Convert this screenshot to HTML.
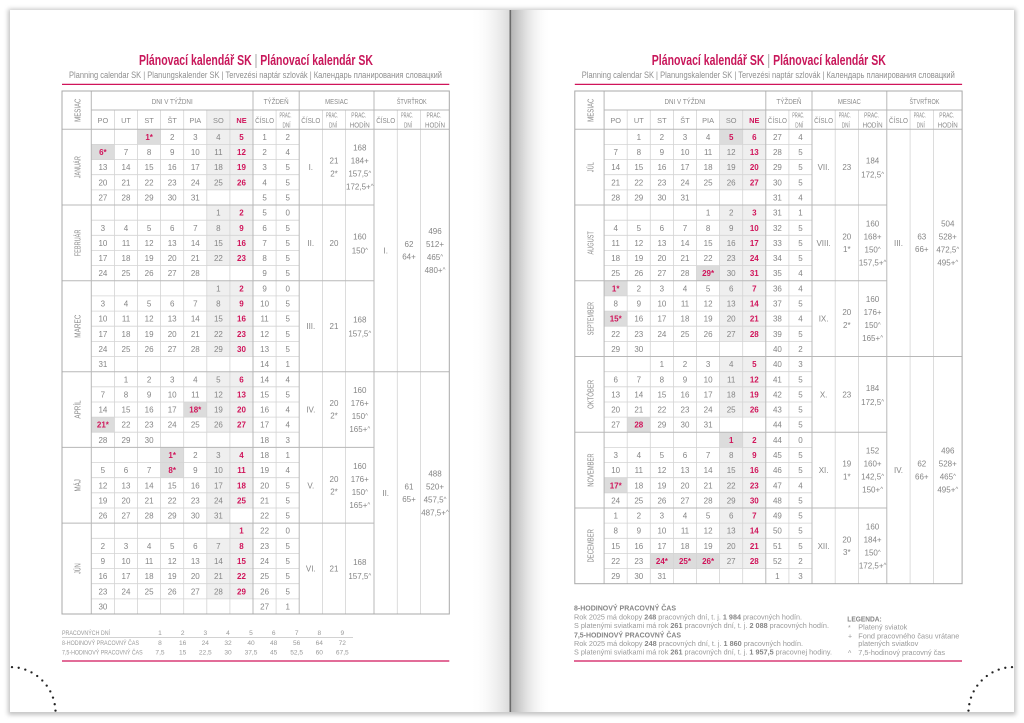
<!DOCTYPE html>
<html><head><meta charset="utf-8"><style>
html,body{margin:0;padding:0;background:#fff;}
svg{display:block}
text{font-family:"Liberation Sans","DejaVu Sans",sans-serif}
.d{font-size:8px;fill:#858585;text-anchor:middle}
.r{fill:#d0145a;font-weight:bold}
.hd{font-size:7.4px;fill:#8a8a8a;text-anchor:middle}
.ml{font-size:8.4px;fill:#8a8a8a;text-anchor:middle}
.c{font-size:6px}
.ft{font-size:6.6px;fill:#9a9a9a}
.fv{font-size:6.6px;fill:#9a9a9a;text-anchor:middle}
.fb{font-size:7px;fill:#9a9a9a}
.fb b,.bb{font-weight:bold;fill:#858585}
</style></head><body>
<svg width="1024" height="723" viewBox="0 0 1024 723" xmlns="http://www.w3.org/2000/svg">
<defs>
<filter id="bl" x="-5%" y="-5%" width="110%" height="110%"><feGaussianBlur stdDeviation="2"/></filter>
<linearGradient id="gl" x1="0" x2="1" y1="0" y2="0"><stop offset="0" stop-color="#fff" stop-opacity="0"/><stop offset="1" stop-color="#dadada"/></linearGradient>
<linearGradient id="gr" x1="0" x2="1" y1="0" y2="0"><stop offset="0" stop-color="#b5b5b5"/><stop offset=".3" stop-color="#d8d8d8"/><stop offset="1" stop-color="#fff" stop-opacity="0"/></linearGradient>
</defs>
<rect width="1024" height="723" fill="#fff"/>
<rect x="8" y="9" width="1008" height="706" fill="#8a8a8a" opacity=".5" filter="url(#bl)"/>
<rect x="10" y="10" width="500" height="702" fill="#fff"/>
<rect x="511" y="10" width="503" height="702" fill="#fff"/>
<rect x="470" y="10" width="40" height="702" fill="url(#gl)"/>
<rect x="511" y="10" width="40" height="702" fill="url(#gr)"/>
<line x1="510.3" y1="10" x2="510.3" y2="712" stroke="#6a6a6a" stroke-width="1.6"/>

<g fill="#222">
<circle cx="12" cy="667.1" r="1.15"/><circle cx="18.7" cy="667.8" r="1.15"/><circle cx="25.3" cy="669.6" r="1.15"/><circle cx="31.5" cy="672.4" r="1.15"/><circle cx="37.2" cy="676" r="1.15"/><circle cx="42.3" cy="680.5" r="1.15"/><circle cx="46.7" cy="685.6" r="1.15"/><circle cx="50.3" cy="691.4" r="1.15"/><circle cx="53" cy="697.6" r="1.15"/><circle cx="54.7" cy="704.2" r="1.15"/><circle cx="55.5" cy="710.6" r="1.15"/>
<circle cx="1012" cy="667.1" r="1.15"/><circle cx="1005.3" cy="667.8" r="1.15"/><circle cx="998.7" cy="669.6" r="1.15"/><circle cx="992.5" cy="672.4" r="1.15"/><circle cx="986.8" cy="676" r="1.15"/><circle cx="981.7" cy="680.5" r="1.15"/><circle cx="977.3" cy="685.6" r="1.15"/><circle cx="973.7" cy="691.4" r="1.15"/><circle cx="971" cy="697.6" r="1.15"/><circle cx="969.3" cy="704.2" r="1.15"/><circle cx="968.5" cy="710.6" r="1.15"/>
</g>

<!-- ================= LEFT PAGE ================= -->
<g>
<text x="139" y="65" font-size="15" fill="#c8175a" font-weight="bold" textLength="234" lengthAdjust="spacingAndGlyphs">Plánovací kalendář SK <tspan fill="#9a9a9a" font-weight="normal">|</tspan> Plánovací kalendár SK</text>
<text x="69" y="78" font-size="9" fill="#8f8f8f" textLength="373" lengthAdjust="spacingAndGlyphs">Planning calendar SK | Planungskalender SK | Tervezési naptár szlovák | Календарь планирования словацкий</text>
<line x1="62" y1="84.4" x2="449.3" y2="84.4" stroke="#d0145a" stroke-width="1.3"/>

<rect x="206.8" y="110" width="46.2" height="19.3" fill="#efefef"/>
<g fill="#efefef">
<rect x="206.8" y="129.3" width="46.2" height="60.6"/>
<rect x="206.8" y="205" width="46.2" height="60.6"/>
<rect x="206.8" y="280.8" width="46.2" height="75.7"/>
<rect x="206.8" y="371.7" width="46.2" height="60.5"/>
<rect x="206.8" y="447.4" width="23.1" height="75.7"/>
<rect x="229.9" y="447.4" width="23.1" height="60.6"/>
<rect x="206.8" y="538.3" width="23.1" height="60.6"/>
<rect x="229.9" y="523.1" width="23.1" height="75.8"/>
</g>
<g fill="#dcdcdc">
<rect x="137.5" y="129.3" width="23.1" height="15.1"/>
<rect x="91.3" y="144.4" width="23.1" height="15.2"/>
<rect x="183.7" y="402" width="23.1" height="15.1"/>
<rect x="91.3" y="417.1" width="23.1" height="15.1"/>
<rect x="160.6" y="447.4" width="23.1" height="15.1"/>
<rect x="160.6" y="462.5" width="23.1" height="15.2"/>
</g>

<path fill="none" stroke="#d4d4d4" stroke-width=".8" d="M91.3 144.4H299.2M91.3 159.6H299.2M91.3 174.7H299.2M91.3 189.9H299.2M91.3 220.2H299.2M91.3 235.3H299.2M91.3 250.5H299.2M91.3 265.6H299.2M91.3 295.9H299.2M91.3 311.1H299.2M91.3 326.2H299.2M91.3 341.4H299.2M91.3 356.5H299.2M91.3 386.8H299.2M91.3 402H299.2M91.3 417.1H299.2M91.3 432.2H299.2M91.3 462.5H299.2M91.3 477.7H299.2M91.3 492.8H299.2M91.3 508H299.2M91.3 538.3H299.2M91.3 553.4H299.2M91.3 568.6H299.2M91.3 583.7H299.2M91.3 598.9H299.2
M114.4 110V614M137.5 110V614M160.6 110V614M183.7 110V614M206.8 110V614M229.9 110V614M276.1 110V614M322.4 110V614M345.6 110V614M397.3 110V614M420.6 110V614"/>
<path fill="none" stroke="#b8b8b8" stroke-width="1" d="M91.3 110H449.3M62 129.3H449.3M62 205H374M62 280.8H374M62 371.7H449.3M62 447.4H374M62 523.1H374M91.3 91V614M253 91V614M299.2 91V614M374 91V614"/>
<rect x="62" y="91" width="387.3" height="523" fill="none" stroke="#a8a8a8" stroke-width="1"/>

<text class="ml" transform="translate(80.6 110.2) rotate(-90)" textLength="23.3" lengthAdjust="spacingAndGlyphs">MESIAC</text>
<g class="hd">
<text x="172.2" y="104" textLength="41" lengthAdjust="spacingAndGlyphs">DNI V TÝŽDNI</text>
<text x="276.1" y="104" textLength="25" lengthAdjust="spacingAndGlyphs">TÝŽDEŇ</text>
<text x="336.6" y="104" textLength="23" lengthAdjust="spacingAndGlyphs">MESIAC</text>
<text x="411.7" y="104" textLength="30" lengthAdjust="spacingAndGlyphs">ŠTVRŤROK</text>
<text y="123"><tspan x="102.9">PO</tspan><tspan x="126">UT</tspan><tspan x="149.1">ST</tspan><tspan x="172.2">ŠT</tspan><tspan x="195.3">PIA</tspan><tspan x="218.4">SO</tspan><tspan x="241.5" class="r">NE</tspan></text>
<text x="264.6" y="123" textLength="19" lengthAdjust="spacingAndGlyphs">ČÍSLO</text>
<text x="310.8" y="123" textLength="19" lengthAdjust="spacingAndGlyphs">ČÍSLO</text>
<text x="385.7" y="123" textLength="19" lengthAdjust="spacingAndGlyphs">ČÍSLO</text>
<text x="285.5" y="117.5" textLength="12" lengthAdjust="spacingAndGlyphs">PRAC.</text><text x="286.5" y="127.5" textLength="8" lengthAdjust="spacingAndGlyphs">DNÍ</text>
<text x="332" y="117.5" textLength="12" lengthAdjust="spacingAndGlyphs">PRAC.</text><text x="333" y="127.5" textLength="8" lengthAdjust="spacingAndGlyphs">DNÍ</text>
<text x="358.8" y="117.5" textLength="15" lengthAdjust="spacingAndGlyphs">PRAC.</text><text x="359.8" y="127.5" textLength="20" lengthAdjust="spacingAndGlyphs">HODÍN</text>
<text x="407" y="117.5" textLength="12" lengthAdjust="spacingAndGlyphs">PRAC.</text><text x="408" y="127.5" textLength="8" lengthAdjust="spacingAndGlyphs">DNÍ</text>
<text x="434" y="117.5" textLength="15" lengthAdjust="spacingAndGlyphs">PRAC.</text><text x="435" y="127.5" textLength="20" lengthAdjust="spacingAndGlyphs">HODÍN</text>
</g>

<g class="ml">
<text transform="translate(80.5 167.2) rotate(-90)" textLength="22" lengthAdjust="spacingAndGlyphs">JANUÁR</text>
<text transform="translate(80.5 242.9) rotate(-90)" textLength="26.7" lengthAdjust="spacingAndGlyphs">FEBRUÁR</text>
<text transform="translate(80.5 326.2) rotate(-90)" textLength="23" lengthAdjust="spacingAndGlyphs">MAREC</text>
<text transform="translate(80.5 409.5) rotate(-90)" textLength="18.3" lengthAdjust="spacingAndGlyphs">APRÍL</text>
<text transform="translate(80.5 485.3) rotate(-90)" textLength="12.3" lengthAdjust="spacingAndGlyphs">MÁJ</text>
<text transform="translate(80.5 568.6) rotate(-90)" textLength="10.7" lengthAdjust="spacingAndGlyphs">JÚN</text>
</g>

<g class="d">
<text y="139.9"><tspan x="149.1" class="r">1*</tspan><tspan x="172.2">2</tspan><tspan x="195.3">3</tspan><tspan x="218.4">4</tspan><tspan x="241.5" class="r">5</tspan><tspan x="264.6">1</tspan><tspan x="287.7">2</tspan></text>
<text y="155.1"><tspan x="102.9" class="r">6*</tspan><tspan x="126">7</tspan><tspan x="149.1">8</tspan><tspan x="172.2">9</tspan><tspan x="195.3">10</tspan><tspan x="218.4">11</tspan><tspan x="241.5" class="r">12</tspan><tspan x="264.6">2</tspan><tspan x="287.7">4</tspan></text>
<text y="170.2"><tspan x="102.9">13</tspan><tspan x="126">14</tspan><tspan x="149.1">15</tspan><tspan x="172.2">16</tspan><tspan x="195.3">17</tspan><tspan x="218.4">18</tspan><tspan x="241.5" class="r">19</tspan><tspan x="264.6">3</tspan><tspan x="287.7">5</tspan></text>
<text y="185.3"><tspan x="102.9">20</tspan><tspan x="126">21</tspan><tspan x="149.1">22</tspan><tspan x="172.2">23</tspan><tspan x="195.3">24</tspan><tspan x="218.4">25</tspan><tspan x="241.5" class="r">26</tspan><tspan x="264.6">4</tspan><tspan x="287.7">5</tspan></text>
<text y="200.5"><tspan x="102.9">27</tspan><tspan x="126">28</tspan><tspan x="149.1">29</tspan><tspan x="172.2">30</tspan><tspan x="195.3">31</tspan><tspan x="264.6">5</tspan><tspan x="287.7">5</tspan></text>

<text y="215.6"><tspan x="218.4">1</tspan><tspan x="241.5" class="r">2</tspan><tspan x="264.6">5</tspan><tspan x="287.7">0</tspan></text>
<text y="230.8"><tspan x="102.9">3</tspan><tspan x="126">4</tspan><tspan x="149.1">5</tspan><tspan x="172.2">6</tspan><tspan x="195.3">7</tspan><tspan x="218.4">8</tspan><tspan x="241.5" class="r">9</tspan><tspan x="264.6">6</tspan><tspan x="287.7">5</tspan></text>
<text y="245.9"><tspan x="102.9">10</tspan><tspan x="126">11</tspan><tspan x="149.1">12</tspan><tspan x="172.2">13</tspan><tspan x="195.3">14</tspan><tspan x="218.4">15</tspan><tspan x="241.5" class="r">16</tspan><tspan x="264.6">7</tspan><tspan x="287.7">5</tspan></text>
<text y="261.1"><tspan x="102.9">17</tspan><tspan x="126">18</tspan><tspan x="149.1">19</tspan><tspan x="172.2">20</tspan><tspan x="195.3">21</tspan><tspan x="218.4">22</tspan><tspan x="241.5" class="r">23</tspan><tspan x="264.6">8</tspan><tspan x="287.7">5</tspan></text>
<text y="276.2"><tspan x="102.9">24</tspan><tspan x="126">25</tspan><tspan x="149.1">26</tspan><tspan x="172.2">27</tspan><tspan x="195.3">28</tspan><tspan x="264.6">9</tspan><tspan x="287.7">5</tspan></text>

<text y="291.4"><tspan x="218.4">1</tspan><tspan x="241.5" class="r">2</tspan><tspan x="264.6">9</tspan><tspan x="287.7">0</tspan></text>
<text y="306.5"><tspan x="102.9">3</tspan><tspan x="126">4</tspan><tspan x="149.1">5</tspan><tspan x="172.2">6</tspan><tspan x="195.3">7</tspan><tspan x="218.4">8</tspan><tspan x="241.5" class="r">9</tspan><tspan x="264.6">10</tspan><tspan x="287.7">5</tspan></text>
<text y="321.7"><tspan x="102.9">10</tspan><tspan x="126">11</tspan><tspan x="149.1">12</tspan><tspan x="172.2">13</tspan><tspan x="195.3">14</tspan><tspan x="218.4">15</tspan><tspan x="241.5" class="r">16</tspan><tspan x="264.6">11</tspan><tspan x="287.7">5</tspan></text>
<text y="336.8"><tspan x="102.9">17</tspan><tspan x="126">18</tspan><tspan x="149.1">19</tspan><tspan x="172.2">20</tspan><tspan x="195.3">21</tspan><tspan x="218.4">22</tspan><tspan x="241.5" class="r">23</tspan><tspan x="264.6">12</tspan><tspan x="287.7">5</tspan></text>
<text y="352"><tspan x="102.9">24</tspan><tspan x="126">25</tspan><tspan x="149.1">26</tspan><tspan x="172.2">27</tspan><tspan x="195.3">28</tspan><tspan x="218.4">29</tspan><tspan x="241.5" class="r">30</tspan><tspan x="264.6">13</tspan><tspan x="287.7">5</tspan></text>
<text y="367.1"><tspan x="102.9">31</tspan><tspan x="264.6">14</tspan><tspan x="287.7">1</tspan></text>

<text y="382.3"><tspan x="126">1</tspan><tspan x="149.1">2</tspan><tspan x="172.2">3</tspan><tspan x="195.3">4</tspan><tspan x="218.4">5</tspan><tspan x="241.5" class="r">6</tspan><tspan x="264.6">14</tspan><tspan x="287.7">4</tspan></text>
<text y="397.4"><tspan x="102.9">7</tspan><tspan x="126">8</tspan><tspan x="149.1">9</tspan><tspan x="172.2">10</tspan><tspan x="195.3">11</tspan><tspan x="218.4">12</tspan><tspan x="241.5" class="r">13</tspan><tspan x="264.6">15</tspan><tspan x="287.7">5</tspan></text>
<text y="412.5"><tspan x="102.9">14</tspan><tspan x="126">15</tspan><tspan x="149.1">16</tspan><tspan x="172.2">17</tspan><tspan x="195.3" class="r">18*</tspan><tspan x="218.4">19</tspan><tspan x="241.5" class="r">20</tspan><tspan x="264.6">16</tspan><tspan x="287.7">4</tspan></text>
<text y="427.7"><tspan x="102.9" class="r">21*</tspan><tspan x="126">22</tspan><tspan x="149.1">23</tspan><tspan x="172.2">24</tspan><tspan x="195.3">25</tspan><tspan x="218.4">26</tspan><tspan x="241.5" class="r">27</tspan><tspan x="264.6">17</tspan><tspan x="287.7">4</tspan></text>
<text y="442.8"><tspan x="102.9">28</tspan><tspan x="126">29</tspan><tspan x="149.1">30</tspan><tspan x="264.6">18</tspan><tspan x="287.7">3</tspan></text>

<text y="458"><tspan x="172.2" class="r">1*</tspan><tspan x="195.3">2</tspan><tspan x="218.4">3</tspan><tspan x="241.5" class="r">4</tspan><tspan x="264.6">18</tspan><tspan x="287.7">1</tspan></text>
<text y="473.1"><tspan x="102.9">5</tspan><tspan x="126">6</tspan><tspan x="149.1">7</tspan><tspan x="172.2" class="r">8*</tspan><tspan x="195.3">9</tspan><tspan x="218.4">10</tspan><tspan x="241.5" class="r">11</tspan><tspan x="264.6">19</tspan><tspan x="287.7">4</tspan></text>
<text y="488.3"><tspan x="102.9">12</tspan><tspan x="126">13</tspan><tspan x="149.1">14</tspan><tspan x="172.2">15</tspan><tspan x="195.3">16</tspan><tspan x="218.4">17</tspan><tspan x="241.5" class="r">18</tspan><tspan x="264.6">20</tspan><tspan x="287.7">5</tspan></text>
<text y="503.4"><tspan x="102.9">19</tspan><tspan x="126">20</tspan><tspan x="149.1">21</tspan><tspan x="172.2">22</tspan><tspan x="195.3">23</tspan><tspan x="218.4">24</tspan><tspan x="241.5" class="r">25</tspan><tspan x="264.6">21</tspan><tspan x="287.7">5</tspan></text>
<text y="518.6"><tspan x="102.9">26</tspan><tspan x="126">27</tspan><tspan x="149.1">28</tspan><tspan x="172.2">29</tspan><tspan x="195.3">30</tspan><tspan x="218.4">31</tspan><tspan x="264.6">22</tspan><tspan x="287.7">5</tspan></text>

<text y="533.7"><tspan x="241.5" class="r">1</tspan><tspan x="264.6">22</tspan><tspan x="287.7">0</tspan></text>
<text y="548.9"><tspan x="102.9">2</tspan><tspan x="126">3</tspan><tspan x="149.1">4</tspan><tspan x="172.2">5</tspan><tspan x="195.3">6</tspan><tspan x="218.4">7</tspan><tspan x="241.5" class="r">8</tspan><tspan x="264.6">23</tspan><tspan x="287.7">5</tspan></text>
<text y="564"><tspan x="102.9">9</tspan><tspan x="126">10</tspan><tspan x="149.1">11</tspan><tspan x="172.2">12</tspan><tspan x="195.3">13</tspan><tspan x="218.4">14</tspan><tspan x="241.5" class="r">15</tspan><tspan x="264.6">24</tspan><tspan x="287.7">5</tspan></text>
<text y="579.2"><tspan x="102.9">16</tspan><tspan x="126">17</tspan><tspan x="149.1">18</tspan><tspan x="172.2">19</tspan><tspan x="195.3">20</tspan><tspan x="218.4">21</tspan><tspan x="241.5" class="r">22</tspan><tspan x="264.6">25</tspan><tspan x="287.7">5</tspan></text>
<text y="594.3"><tspan x="102.9">23</tspan><tspan x="126">24</tspan><tspan x="149.1">25</tspan><tspan x="172.2">26</tspan><tspan x="195.3">27</tspan><tspan x="218.4">28</tspan><tspan x="241.5" class="r">29</tspan><tspan x="264.6">26</tspan><tspan x="287.7">5</tspan></text>
<text y="609.5"><tspan x="102.9">30</tspan><tspan x="264.6">27</tspan><tspan x="287.7">1</tspan></text>

<text x="310.8" y="170.2">I.</text>
<text x="334" y="163.7">21</text><text x="334" y="176.4">2*</text>
<text x="359.8" y="150.7">168</text><text x="359.8" y="163.7">184+</text><text x="359.8" y="176.7">157,5<tspan class="c" dy="-1.5">^</tspan></text><text x="359.8" y="189.7">172,5+<tspan class="c" dy="-1.5">^</tspan></text>

<text x="310.8" y="245.9">II.</text>
<text x="334" y="245.9">20</text>
<text x="359.8" y="239.4">160</text><text x="359.8" y="253.4">150<tspan class="c" dy="-1.5">^</tspan></text>

<text x="310.8" y="329.2">III.</text>
<text x="334" y="329.2">21</text>
<text x="359.8" y="322.7">168</text><text x="359.8" y="336.7">157,5<tspan class="c" dy="-1.5">^</tspan></text>

<text x="310.8" y="412.5">IV.</text>
<text x="334" y="406">20</text><text x="334" y="418.7">2*</text>
<text x="359.8" y="393">160</text><text x="359.8" y="406">176+</text><text x="359.8" y="419">150<tspan class="c" dy="-1.5">^</tspan></text><text x="359.8" y="432">165+<tspan class="c" dy="-1.5">^</tspan></text>

<text x="310.8" y="488.3">V.</text>
<text x="334" y="481.8">20</text><text x="334" y="494.5">2*</text>
<text x="359.8" y="468.8">160</text><text x="359.8" y="481.8">176+</text><text x="359.8" y="494.8">150<tspan class="c" dy="-1.5">^</tspan></text><text x="359.8" y="507.8">165+<tspan class="c" dy="-1.5">^</tspan></text>

<text x="310.8" y="571.6">VI.</text>
<text x="334" y="571.6">21</text>
<text x="359.8" y="565.1">168</text><text x="359.8" y="579.1">157,5<tspan class="c" dy="-1.5">^</tspan></text>

<text x="385.7" y="253.5">I.</text>
<text x="409" y="247">62</text><text x="409" y="259.7">64+</text>
<text x="435" y="234">496</text><text x="435" y="247">512+</text><text x="435" y="260">465<tspan class="c" dy="-1.5">^</tspan></text><text x="435" y="273">480+<tspan class="c" dy="-1.5">^</tspan></text>

<text x="385.7" y="495.8">II.</text>
<text x="409" y="489.3">61</text><text x="409" y="502">65+</text>
<text x="435" y="476.3">488</text><text x="435" y="489.3">520+</text><text x="435" y="502.3">457,5<tspan class="c" dy="-1.5">^</tspan></text><text x="435" y="515.3">487,5+<tspan class="c" dy="-1.5">^</tspan></text>
</g>

<text class="ft" x="62" y="635" textLength="48" lengthAdjust="spacingAndGlyphs">PRACOVNÝCH DNÍ</text>
<text class="ft" x="62" y="645" textLength="77" lengthAdjust="spacingAndGlyphs">8-HODINOVÝ PRACOVNÝ ČAS</text>
<text class="ft" x="62" y="654.7" textLength="80.7" lengthAdjust="spacingAndGlyphs">7,5-HODINOVÝ PRACOVNÝ ČAS</text>
<line x1="62" y1="637.6" x2="353" y2="637.6" stroke="#c4c4c4" stroke-width=".8"/>
<g class="fv">
<text y="635"><tspan x="160">1</tspan><tspan x="182.7">2</tspan><tspan x="205.3">3</tspan><tspan x="228">4</tspan><tspan x="251">5</tspan><tspan x="273.7">6</tspan><tspan x="296.7">7</tspan><tspan x="319.3">8</tspan><tspan x="342.3">9</tspan></text>
<text y="645"><tspan x="160">8</tspan><tspan x="182.7">16</tspan><tspan x="205.3">24</tspan><tspan x="228">32</tspan><tspan x="251">40</tspan><tspan x="273.7">48</tspan><tspan x="296.7">56</tspan><tspan x="319.3">64</tspan><tspan x="342.3">72</tspan></text>
<text y="654.7"><tspan x="160">7,5</tspan><tspan x="182.7">15</tspan><tspan x="205.3">22,5</tspan><tspan x="228">30</tspan><tspan x="251">37,5</tspan><tspan x="273.7">45</tspan><tspan x="296.7">52,5</tspan><tspan x="319.3">60</tspan><tspan x="342.3">67,5</tspan></text>
</g>
<line x1="62" y1="661" x2="449.3" y2="661" stroke="#d0145a" stroke-width="1.2"/>
</g>

<!-- ================= RIGHT PAGE ================= -->
<g transform="translate(512.8 0)">
<text x="139" y="65" font-size="15" fill="#c8175a" font-weight="bold" textLength="234" lengthAdjust="spacingAndGlyphs">Plánovací kalendář SK <tspan fill="#9a9a9a" font-weight="normal">|</tspan> Plánovací kalendár SK</text>
<text x="69" y="78" font-size="9" fill="#8f8f8f" textLength="373" lengthAdjust="spacingAndGlyphs">Planning calendar SK | Planungskalender SK | Tervezési naptár szlovák | Календарь планирования словацкий</text>
<line x1="62" y1="84.4" x2="449.3" y2="84.4" stroke="#d0145a" stroke-width="1.3"/>

<rect x="206.8" y="110" width="46.2" height="19.3" fill="#efefef"/>
<g fill="#efefef">
<rect x="206.8" y="129.3" width="46.2" height="60.6"/>
<rect x="206.8" y="205" width="46.2" height="75.8"/>
<rect x="206.8" y="280.8" width="46.2" height="60.6"/>
<rect x="206.8" y="356.5" width="46.2" height="60.6"/>
<rect x="206.8" y="432.2" width="46.2" height="75.8"/>
<rect x="206.8" y="508" width="46.2" height="60.6"/>
</g>
<g fill="#dcdcdc">
<rect x="206.8" y="129.3" width="23.1" height="15.1"/>
<rect x="183.7" y="265.6" width="23.1" height="15.2"/>
<rect x="91.3" y="280.8" width="23.1" height="15.1"/>
<rect x="91.3" y="311.1" width="23.1" height="15.1"/>
<rect x="114.4" y="417.1" width="23.1" height="15.1"/>
<rect x="206.8" y="432.2" width="23.1" height="15.2"/>
<rect x="91.3" y="477.7" width="23.1" height="15.1"/>
<rect x="137.5" y="553.4" width="69.3" height="15.2"/>
</g>

<path fill="none" stroke="#d4d4d4" stroke-width=".8" d="M91.3 144.4H299.2M91.3 159.6H299.2M91.3 174.7H299.2M91.3 189.9H299.2M91.3 220.2H299.2M91.3 235.3H299.2M91.3 250.5H299.2M91.3 265.6H299.2M91.3 295.9H299.2M91.3 311.1H299.2M91.3 326.2H299.2M91.3 341.4H299.2M91.3 371.7H299.2M91.3 386.8H299.2M91.3 402H299.2M91.3 417.1H299.2M91.3 447.4H299.2M91.3 462.5H299.2M91.3 477.7H299.2M91.3 492.8H299.2M91.3 523.1H299.2M91.3 538.3H299.2M91.3 553.4H299.2M91.3 568.6H299.2
M114.4 110V583.7M137.5 110V583.7M160.6 110V583.7M183.7 110V583.7M206.8 110V583.7M229.9 110V583.7M276.1 110V583.7M322.4 110V583.7M345.6 110V583.7M397.3 110V583.7M420.6 110V583.7"/>
<path fill="none" stroke="#b8b8b8" stroke-width="1" d="M91.3 110H449.3M62 129.3H449.3M62 205H374M62 280.8H374M62 356.5H449.3M62 432.2H374M62 508H374M91.3 91V583.7M253 91V583.7M299.2 91V583.7M374 91V583.7"/>
<rect x="62" y="91" width="387.3" height="492.7" fill="none" stroke="#a8a8a8" stroke-width="1"/>

<text class="ml" transform="translate(80.6 110.2) rotate(-90)" textLength="23.3" lengthAdjust="spacingAndGlyphs">MESIAC</text>
<g class="hd">
<text x="172.2" y="104" textLength="41" lengthAdjust="spacingAndGlyphs">DNI V TÝŽDNI</text>
<text x="276.1" y="104" textLength="25" lengthAdjust="spacingAndGlyphs">TÝŽDEŇ</text>
<text x="336.6" y="104" textLength="23" lengthAdjust="spacingAndGlyphs">MESIAC</text>
<text x="411.7" y="104" textLength="30" lengthAdjust="spacingAndGlyphs">ŠTVRŤROK</text>
<text y="123"><tspan x="102.9">PO</tspan><tspan x="126">UT</tspan><tspan x="149.1">ST</tspan><tspan x="172.2">ŠT</tspan><tspan x="195.3">PIA</tspan><tspan x="218.4">SO</tspan><tspan x="241.5" class="r">NE</tspan></text>
<text x="264.6" y="123" textLength="19" lengthAdjust="spacingAndGlyphs">ČÍSLO</text>
<text x="310.8" y="123" textLength="19" lengthAdjust="spacingAndGlyphs">ČÍSLO</text>
<text x="385.7" y="123" textLength="19" lengthAdjust="spacingAndGlyphs">ČÍSLO</text>
<text x="285.5" y="117.5" textLength="12" lengthAdjust="spacingAndGlyphs">PRAC.</text><text x="286.5" y="127.5" textLength="8" lengthAdjust="spacingAndGlyphs">DNÍ</text>
<text x="332" y="117.5" textLength="12" lengthAdjust="spacingAndGlyphs">PRAC.</text><text x="333" y="127.5" textLength="8" lengthAdjust="spacingAndGlyphs">DNÍ</text>
<text x="358.8" y="117.5" textLength="15" lengthAdjust="spacingAndGlyphs">PRAC.</text><text x="359.8" y="127.5" textLength="20" lengthAdjust="spacingAndGlyphs">HODÍN</text>
<text x="407" y="117.5" textLength="12" lengthAdjust="spacingAndGlyphs">PRAC.</text><text x="408" y="127.5" textLength="8" lengthAdjust="spacingAndGlyphs">DNÍ</text>
<text x="434" y="117.5" textLength="15" lengthAdjust="spacingAndGlyphs">PRAC.</text><text x="435" y="127.5" textLength="20" lengthAdjust="spacingAndGlyphs">HODÍN</text>
</g>

<g class="ml">
<text transform="translate(80.5 167.2) rotate(-90)" textLength="10" lengthAdjust="spacingAndGlyphs">JÚL</text>
<text transform="translate(80.5 242.9) rotate(-90)" textLength="23.3" lengthAdjust="spacingAndGlyphs">AUGUST</text>
<text transform="translate(80.5 318.6) rotate(-90)" textLength="33.3" lengthAdjust="spacingAndGlyphs">SEPTEMBER</text>
<text transform="translate(80.5 394.4) rotate(-90)" textLength="29" lengthAdjust="spacingAndGlyphs">OKTÓBER</text>
<text transform="translate(80.5 470.1) rotate(-90)" textLength="33.3" lengthAdjust="spacingAndGlyphs">NOVEMBER</text>
<text transform="translate(80.5 545.8) rotate(-90)" textLength="33.3" lengthAdjust="spacingAndGlyphs">DECEMBER</text>
</g>

<g class="d">
<text y="139.9"><tspan x="126">1</tspan><tspan x="149.1">2</tspan><tspan x="172.2">3</tspan><tspan x="195.3">4</tspan><tspan x="218.4" class="r">5</tspan><tspan x="241.5" class="r">6</tspan><tspan x="264.6">27</tspan><tspan x="287.7">4</tspan></text>
<text y="155.1"><tspan x="102.9">7</tspan><tspan x="126">8</tspan><tspan x="149.1">9</tspan><tspan x="172.2">10</tspan><tspan x="195.3">11</tspan><tspan x="218.4">12</tspan><tspan x="241.5" class="r">13</tspan><tspan x="264.6">28</tspan><tspan x="287.7">5</tspan></text>
<text y="170.2"><tspan x="102.9">14</tspan><tspan x="126">15</tspan><tspan x="149.1">16</tspan><tspan x="172.2">17</tspan><tspan x="195.3">18</tspan><tspan x="218.4">19</tspan><tspan x="241.5" class="r">20</tspan><tspan x="264.6">29</tspan><tspan x="287.7">5</tspan></text>
<text y="185.3"><tspan x="102.9">21</tspan><tspan x="126">22</tspan><tspan x="149.1">23</tspan><tspan x="172.2">24</tspan><tspan x="195.3">25</tspan><tspan x="218.4">26</tspan><tspan x="241.5" class="r">27</tspan><tspan x="264.6">30</tspan><tspan x="287.7">5</tspan></text>
<text y="200.5"><tspan x="102.9">28</tspan><tspan x="126">29</tspan><tspan x="149.1">30</tspan><tspan x="172.2">31</tspan><tspan x="264.6">31</tspan><tspan x="287.7">4</tspan></text>

<text y="215.6"><tspan x="195.3">1</tspan><tspan x="218.4">2</tspan><tspan x="241.5" class="r">3</tspan><tspan x="264.6">31</tspan><tspan x="287.7">1</tspan></text>
<text y="230.8"><tspan x="102.9">4</tspan><tspan x="126">5</tspan><tspan x="149.1">6</tspan><tspan x="172.2">7</tspan><tspan x="195.3">8</tspan><tspan x="218.4">9</tspan><tspan x="241.5" class="r">10</tspan><tspan x="264.6">32</tspan><tspan x="287.7">5</tspan></text>
<text y="245.9"><tspan x="102.9">11</tspan><tspan x="126">12</tspan><tspan x="149.1">13</tspan><tspan x="172.2">14</tspan><tspan x="195.3">15</tspan><tspan x="218.4">16</tspan><tspan x="241.5" class="r">17</tspan><tspan x="264.6">33</tspan><tspan x="287.7">5</tspan></text>
<text y="261.1"><tspan x="102.9">18</tspan><tspan x="126">19</tspan><tspan x="149.1">20</tspan><tspan x="172.2">21</tspan><tspan x="195.3">22</tspan><tspan x="218.4">23</tspan><tspan x="241.5" class="r">24</tspan><tspan x="264.6">34</tspan><tspan x="287.7">5</tspan></text>
<text y="276.2"><tspan x="102.9">25</tspan><tspan x="126">26</tspan><tspan x="149.1">27</tspan><tspan x="172.2">28</tspan><tspan x="195.3" class="r">29*</tspan><tspan x="218.4">30</tspan><tspan x="241.5" class="r">31</tspan><tspan x="264.6">35</tspan><tspan x="287.7">4</tspan></text>

<text y="291.4"><tspan x="102.9" class="r">1*</tspan><tspan x="126">2</tspan><tspan x="149.1">3</tspan><tspan x="172.2">4</tspan><tspan x="195.3">5</tspan><tspan x="218.4">6</tspan><tspan x="241.5" class="r">7</tspan><tspan x="264.6">36</tspan><tspan x="287.7">4</tspan></text>
<text y="306.5"><tspan x="102.9">8</tspan><tspan x="126">9</tspan><tspan x="149.1">10</tspan><tspan x="172.2">11</tspan><tspan x="195.3">12</tspan><tspan x="218.4">13</tspan><tspan x="241.5" class="r">14</tspan><tspan x="264.6">37</tspan><tspan x="287.7">5</tspan></text>
<text y="321.7"><tspan x="102.9" class="r">15*</tspan><tspan x="126">16</tspan><tspan x="149.1">17</tspan><tspan x="172.2">18</tspan><tspan x="195.3">19</tspan><tspan x="218.4">20</tspan><tspan x="241.5" class="r">21</tspan><tspan x="264.6">38</tspan><tspan x="287.7">4</tspan></text>
<text y="336.8"><tspan x="102.9">22</tspan><tspan x="126">23</tspan><tspan x="149.1">24</tspan><tspan x="172.2">25</tspan><tspan x="195.3">26</tspan><tspan x="218.4">27</tspan><tspan x="241.5" class="r">28</tspan><tspan x="264.6">39</tspan><tspan x="287.7">5</tspan></text>
<text y="352"><tspan x="102.9">29</tspan><tspan x="126">30</tspan><tspan x="264.6">40</tspan><tspan x="287.7">2</tspan></text>

<text y="367.1"><tspan x="149.1">1</tspan><tspan x="172.2">2</tspan><tspan x="195.3">3</tspan><tspan x="218.4">4</tspan><tspan x="241.5" class="r">5</tspan><tspan x="264.6">40</tspan><tspan x="287.7">3</tspan></text>
<text y="382.3"><tspan x="102.9">6</tspan><tspan x="126">7</tspan><tspan x="149.1">8</tspan><tspan x="172.2">9</tspan><tspan x="195.3">10</tspan><tspan x="218.4">11</tspan><tspan x="241.5" class="r">12</tspan><tspan x="264.6">41</tspan><tspan x="287.7">5</tspan></text>
<text y="397.4"><tspan x="102.9">13</tspan><tspan x="126">14</tspan><tspan x="149.1">15</tspan><tspan x="172.2">16</tspan><tspan x="195.3">17</tspan><tspan x="218.4">18</tspan><tspan x="241.5" class="r">19</tspan><tspan x="264.6">42</tspan><tspan x="287.7">5</tspan></text>
<text y="412.5"><tspan x="102.9">20</tspan><tspan x="126">21</tspan><tspan x="149.1">22</tspan><tspan x="172.2">23</tspan><tspan x="195.3">24</tspan><tspan x="218.4">25</tspan><tspan x="241.5" class="r">26</tspan><tspan x="264.6">43</tspan><tspan x="287.7">5</tspan></text>
<text y="427.7"><tspan x="102.9">27</tspan><tspan x="126" class="r">28</tspan><tspan x="149.1">29</tspan><tspan x="172.2">30</tspan><tspan x="195.3">31</tspan><tspan x="264.6">44</tspan><tspan x="287.7">5</tspan></text>

<text y="442.8"><tspan x="218.4" class="r">1</tspan><tspan x="241.5" class="r">2</tspan><tspan x="264.6">44</tspan><tspan x="287.7">0</tspan></text>
<text y="458"><tspan x="102.9">3</tspan><tspan x="126">4</tspan><tspan x="149.1">5</tspan><tspan x="172.2">6</tspan><tspan x="195.3">7</tspan><tspan x="218.4">8</tspan><tspan x="241.5" class="r">9</tspan><tspan x="264.6">45</tspan><tspan x="287.7">5</tspan></text>
<text y="473.1"><tspan x="102.9">10</tspan><tspan x="126">11</tspan><tspan x="149.1">12</tspan><tspan x="172.2">13</tspan><tspan x="195.3">14</tspan><tspan x="218.4">15</tspan><tspan x="241.5" class="r">16</tspan><tspan x="264.6">46</tspan><tspan x="287.7">5</tspan></text>
<text y="488.3"><tspan x="102.9" class="r">17*</tspan><tspan x="126">18</tspan><tspan x="149.1">19</tspan><tspan x="172.2">20</tspan><tspan x="195.3">21</tspan><tspan x="218.4">22</tspan><tspan x="241.5" class="r">23</tspan><tspan x="264.6">47</tspan><tspan x="287.7">4</tspan></text>
<text y="503.4"><tspan x="102.9">24</tspan><tspan x="126">25</tspan><tspan x="149.1">26</tspan><tspan x="172.2">27</tspan><tspan x="195.3">28</tspan><tspan x="218.4">29</tspan><tspan x="241.5" class="r">30</tspan><tspan x="264.6">48</tspan><tspan x="287.7">5</tspan></text>

<text y="518.6"><tspan x="102.9">1</tspan><tspan x="126">2</tspan><tspan x="149.1">3</tspan><tspan x="172.2">4</tspan><tspan x="195.3">5</tspan><tspan x="218.4">6</tspan><tspan x="241.5" class="r">7</tspan><tspan x="264.6">49</tspan><tspan x="287.7">5</tspan></text>
<text y="533.7"><tspan x="102.9">8</tspan><tspan x="126">9</tspan><tspan x="149.1">10</tspan><tspan x="172.2">11</tspan><tspan x="195.3">12</tspan><tspan x="218.4">13</tspan><tspan x="241.5" class="r">14</tspan><tspan x="264.6">50</tspan><tspan x="287.7">5</tspan></text>
<text y="548.9"><tspan x="102.9">15</tspan><tspan x="126">16</tspan><tspan x="149.1">17</tspan><tspan x="172.2">18</tspan><tspan x="195.3">19</tspan><tspan x="218.4">20</tspan><tspan x="241.5" class="r">21</tspan><tspan x="264.6">51</tspan><tspan x="287.7">5</tspan></text>
<text y="564"><tspan x="102.9">22</tspan><tspan x="126">23</tspan><tspan x="149.1" class="r">24*</tspan><tspan x="172.2" class="r">25*</tspan><tspan x="195.3" class="r">26*</tspan><tspan x="218.4">27</tspan><tspan x="241.5" class="r">28</tspan><tspan x="264.6">52</tspan><tspan x="287.7">2</tspan></text>
<text y="579.2"><tspan x="102.9">29</tspan><tspan x="126">30</tspan><tspan x="149.1">31</tspan><tspan x="264.6">1</tspan><tspan x="287.7">3</tspan></text>

<text x="310.8" y="170.2">VII.</text>
<text x="334" y="170.2">23</text>
<text x="359.8" y="163.7">184</text><text x="359.8" y="177.7">172,5<tspan class="c" dy="-1.5">^</tspan></text>

<text x="310.8" y="245.9">VIII.</text>
<text x="334" y="239.4">20</text><text x="334" y="252.1">1*</text>
<text x="359.8" y="226.4">160</text><text x="359.8" y="239.4">168+</text><text x="359.8" y="252.4">150<tspan class="c" dy="-1.5">^</tspan></text><text x="359.8" y="265.4">157,5+<tspan class="c" dy="-1.5">^</tspan></text>

<text x="310.8" y="321.6">IX.</text>
<text x="334" y="315.1">20</text><text x="334" y="327.8">2*</text>
<text x="359.8" y="302.1">160</text><text x="359.8" y="315.1">176+</text><text x="359.8" y="328.1">150<tspan class="c" dy="-1.5">^</tspan></text><text x="359.8" y="341.1">165+<tspan class="c" dy="-1.5">^</tspan></text>

<text x="310.8" y="397.4">X.</text>
<text x="334" y="397.4">23</text>
<text x="359.8" y="390.9">184</text><text x="359.8" y="404.9">172,5<tspan class="c" dy="-1.5">^</tspan></text>

<text x="310.8" y="473.1">XI.</text>
<text x="334" y="466.6">19</text><text x="334" y="479.3">1*</text>
<text x="359.8" y="453.6">152</text><text x="359.8" y="466.6">160+</text><text x="359.8" y="479.6">142,5<tspan class="c" dy="-1.5">^</tspan></text><text x="359.8" y="492.6">150+<tspan class="c" dy="-1.5">^</tspan></text>

<text x="310.8" y="548.8">XII.</text>
<text x="334" y="542.3">20</text><text x="334" y="555">3*</text>
<text x="359.8" y="529.3">160</text><text x="359.8" y="542.3">184+</text><text x="359.8" y="555.3">150<tspan class="c" dy="-1.5">^</tspan></text><text x="359.8" y="568.3">172,5+<tspan class="c" dy="-1.5">^</tspan></text>

<text x="385.7" y="245.9">III.</text>
<text x="409" y="239.4">63</text><text x="409" y="252.1">66+</text>
<text x="435" y="226.4">504</text><text x="435" y="239.4">528+</text><text x="435" y="252.4">472,5<tspan class="c" dy="-1.5">^</tspan></text><text x="435" y="265.4">495+<tspan class="c" dy="-1.5">^</tspan></text>

<text x="385.7" y="473.1">IV.</text>
<text x="409" y="466.6">62</text><text x="409" y="479.3">66+</text>
<text x="435" y="453.6">496</text><text x="435" y="466.6">528+</text><text x="435" y="479.6">465<tspan class="c" dy="-1.5">^</tspan></text><text x="435" y="492.6">495+<tspan class="c" dy="-1.5">^</tspan></text>
</g>
</g>

<g class="fb">
<text x="574" y="610.7" class="bb" textLength="102" lengthAdjust="spacingAndGlyphs">8-HODINOVÝ PRACOVNÝ ČAS</text>
<text x="574" y="619.5" textLength="228" lengthAdjust="spacingAndGlyphs">Rok 2025 má dokopy <tspan class="bb">248</tspan> pracovných dní, t. j. <tspan class="bb">1 984</tspan> pracovných hodín.</text>
<text x="574" y="627.8" textLength="255" lengthAdjust="spacingAndGlyphs">S platenými sviatkami má rok <tspan class="bb">261</tspan> pracovných dní, t. j. <tspan class="bb">2 088</tspan> pracovných hodín.</text>
<text x="574" y="637.7" class="bb" textLength="107" lengthAdjust="spacingAndGlyphs">7,5-HODINOVÝ PRACOVNÝ ČAS</text>
<text x="574" y="646" textLength="229" lengthAdjust="spacingAndGlyphs">Rok 2025 má dokopy <tspan class="bb">248</tspan> pracovných dní, t. j. <tspan class="bb">1 860</tspan> pracovných hodín.</text>
<text x="574" y="654.3" textLength="258" lengthAdjust="spacingAndGlyphs">S platenými sviatkami má rok <tspan class="bb">261</tspan> pracovných dní, t. j. <tspan class="bb">1 957,5</tspan> pracovnej hodiny.</text>

<text x="847.3" y="621.7" class="bb" textLength="34.4" lengthAdjust="spacingAndGlyphs">LEGENDA:</text>
<text x="848" y="630">*</text><text x="858.3" y="629.5" textLength="49" lengthAdjust="spacingAndGlyphs">Platený sviatok</text>
<text x="848" y="638.3">+</text><text x="858.3" y="638.3" textLength="101" lengthAdjust="spacingAndGlyphs">Fond pracovného času vrátane</text>
<text x="858.3" y="646" textLength="60" lengthAdjust="spacingAndGlyphs">platených sviatkov</text>
<text x="848" y="655.5">^</text><text x="858.3" y="655" textLength="86.7" lengthAdjust="spacingAndGlyphs">7,5-hodinový pracovný čas</text>
</g>
<line x1="574" y1="661" x2="962" y2="661" stroke="#d0145a" stroke-width="1.2"/>
</svg>
</body></html>
